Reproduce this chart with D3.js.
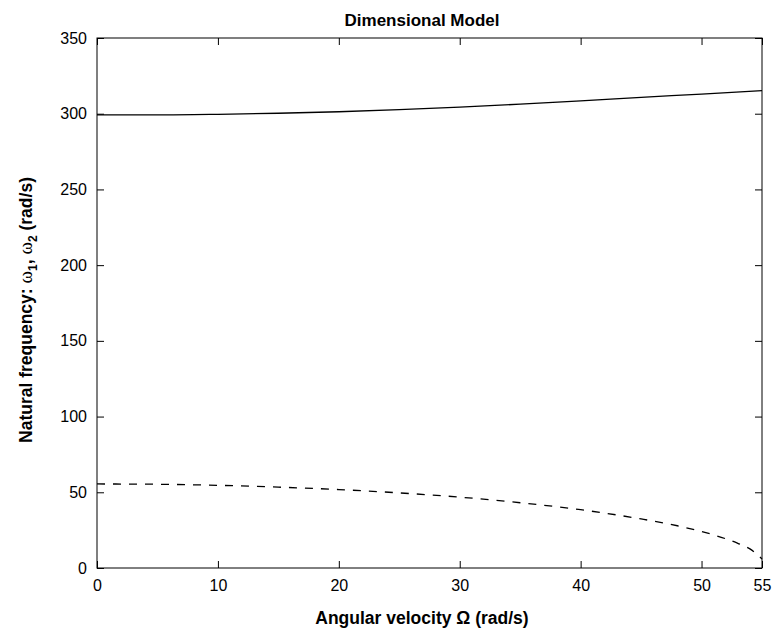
<!DOCTYPE html>
<html><head><meta charset="utf-8">
<script src="https://cdn.jsdelivr.net/npm/d3@7"></script>
<style>body{margin:0;background:#fff}svg{display:block}</style>
</head><body>
<script>
const omegaHigh = [0,5,10,15,20,25,30,35,40,45,50,55];
const freqHigh  = [299.2,299.2,299.6,300.3,301.3,302.7,304.4,306.3,308.5,310.8,313.0,315.3];
const omegaLow  = [0,5,10,15,20,25,30,35,40,45,48,50,52,53,54,55];
const freqLow   = [55.5,55.3,54.6,53.4,51.8,49.6,46.8,43.1,38.5,32.4,27.9,24.1,19.3,16.3,12.6,6.0];
const xTicks = [0,10,20,30,40,50,55];
const yTicks = [0,50,100,150,200,250,300,350];

const W=774,H=631;
const m={l:97,r:762,t:38,b:568};
const FF="'Liberation Sans', Arial, sans-serif";
const svg=d3.select("body").append("svg").attr("width",W).attr("height",H)
  .style("font-family",FF);
const x=d3.scaleLinear().domain([0,55]).range([m.l,m.r]);
const y=d3.scaleLinear().domain([0,350]).range([m.b,m.t]);
const tl=7;

svg.append("g").attr("transform",`translate(0,${m.b})`)
  .call(d3.axisBottom(x).tickValues(xTicks).tickSizeInner(-tl).tickSizeOuter(0).tickPadding(tl+5))
  .call(g=>{g.select(".domain").remove();g.selectAll("text").attr("font-size",16).attr("fill","#000").attr("font-family",FF);});
svg.append("g").attr("transform",`translate(0,${m.t})`)
  .call(d3.axisTop(x).tickValues(xTicks).tickSizeInner(-tl).tickSizeOuter(0).tickFormat(""))
  .call(g=>g.select(".domain").remove());
svg.append("g").attr("transform",`translate(${m.l},0)`)
  .call(d3.axisLeft(y).tickValues(yTicks).tickSizeInner(-tl).tickSizeOuter(0).tickPadding(5))
  .call(g=>{g.select(".domain").remove();g.selectAll("text").attr("font-size",16).attr("fill","#000").attr("font-family",FF).attr("dx",-tl+2);});
svg.append("g").attr("transform",`translate(${m.r},0)`)
  .call(d3.axisRight(y).tickValues(yTicks).tickSizeInner(-tl).tickSizeOuter(0).tickFormat(""))
  .call(g=>g.select(".domain").remove());
svg.selectAll(".tick line").attr("stroke","#000");

svg.append("rect").attr("x",m.l).attr("y",m.t).attr("width",m.r-m.l).attr("height",m.b-m.t)
  .attr("fill","none").attr("stroke","#000").attr("stroke-width",1);

const line=d3.line().x(d=>x(d[0])).y(d=>y(d[1])).curve(d3.curveMonotoneX);
svg.append("path").datum(omegaHigh.map((o,i)=>[o,freqHigh[i]])).attr("d",line)
  .attr("fill","none").attr("stroke","#000").attr("stroke-width",1.3);
svg.append("path").datum(omegaLow.map((o,i)=>[o,freqLow[i]])).attr("d",line)
  .attr("fill","none").attr("stroke","#000").attr("stroke-width",1.3).attr("stroke-dasharray","8,8");

svg.append("text").attr("x",422).attr("y",26).attr("text-anchor","middle")
  .attr("font-size",17).attr("font-weight","bold").text("Dimensional Model");
svg.append("text").attr("x",422).attr("y",624).attr("text-anchor","middle")
  .attr("font-size",17.5).attr("font-weight","bold").text("Angular velocity Ω (rad/s)");

const yl=svg.append("text").attr("transform","translate(32,310) rotate(-90)").attr("text-anchor","middle")
  .attr("font-size",17.5).attr("font-weight","bold");
yl.append("tspan").text("Natural frequency:  ");
yl.append("tspan").attr("font-family","'Liberation Serif', serif").attr("font-weight","normal").attr("font-size",19).text("ω");
yl.append("tspan").attr("font-size",12).attr("dy",5).text("1");
yl.append("tspan").attr("dy",-5).text(", ");
yl.append("tspan").attr("font-family","'Liberation Serif', serif").attr("font-weight","normal").attr("font-size",19).text("ω");
yl.append("tspan").attr("font-size",12).attr("dy",5).text("2");
yl.append("tspan").attr("dy",-5).text(" (rad/s)");
</script>
</body></html>
